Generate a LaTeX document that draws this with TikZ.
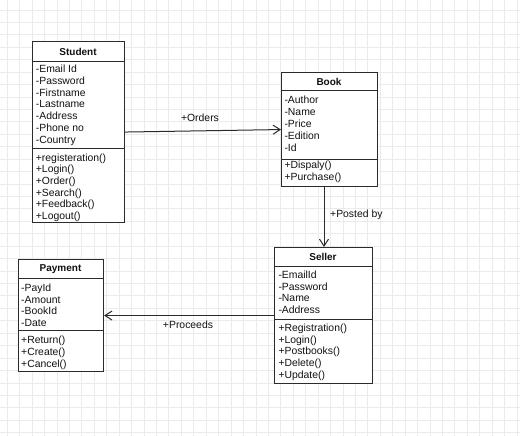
\documentclass[tikz,border=0pt]{standalone}
\usepackage{fontspec}
\setmainfont{Liberation Sans}
\usetikzlibrary{arrows.meta}
\definecolor{linec}{HTML}{2B2B2B}
\definecolor{textc}{HTML}{111111}
\definecolor{gridc}{HTML}{EBEBEB}
\begin{document}
\begin{tikzpicture}[x=1pt,y=-1pt,
  classbox/.style={draw=linec, line width=1.1pt, fill=white, inner sep=0pt, anchor=north west},
  member/.style={font=\fontsize{10.4}{11}\selectfont, inner sep=0pt, anchor=base west, text=textc},
  title/.style={font=\fontsize{10}{11}\selectfont\bfseries, inner sep=0pt, text=textc},
  rule/.style={draw=linec, line width=1pt},
  assoc/.style={draw=linec, line width=1pt, -{Straight Barb[length=7pt,width=9pt]}},
  lbl/.style={font=\fontsize{10.4}{11}\selectfont, inner sep=0pt, text=textc}]

% page and background grid
\fill[white] (0,0) rectangle (520,436);
\useasboundingbox (0,0) rectangle (520,436);
\foreach \k in {0,...,41} \draw[gridc, line width=0.8pt] ({7.3+12.43*\k},0) -- ({7.3+12.43*\k},436);
\foreach \k in {0,...,34} \draw[gridc, line width=0.8pt] (0,{10+12.43*\k}) -- (520,{10+12.43*\k});

% ---------- Student ----------
\node[classbox, minimum width=92pt, minimum height=181pt] (student) at (32,41) {};
\draw[rule] (student.west |- 0,61.7) -- (student.east |- 0,61.7);
\draw[rule] (student.west |- 0,148) -- (student.east |- 0,148);
\node[title] (student-t) at (78,51.5) {Student};
\foreach \txt [count=\i from 0] in {-Email Id,-Password,-Firstname,-Lastname,-Address,-Phone no,-Country}
  \node[member] (student-a\i) at (35.7,{72.6+11.8*\i}) {\txt};
\foreach \txt [count=\i from 0] in {+registeration(),+Login(),+Order(),+Search(),+Feedback(),+Logout()}
  \node[member] (student-m\i) at (35.7,{161+11.7*\i}) {\txt};

% ---------- Book ----------
\node[classbox, minimum width=96pt, minimum height=114pt] (book) at (281,72) {};
\draw[rule] (book.west |- 0,90.5) -- (book.east |- 0,90.5);
\draw[rule] (book.west |- 0,159) -- (book.east |- 0,159);
\node[title] (book-t) at (329,81.5) {Book};
\foreach \txt [count=\i from 0] in {-Author,-Name,-Price,-Edition,-Id}
  \node[member] (book-a\i) at (284.3,{103.6+11.85*\i}) {\txt};
\foreach \txt [count=\i from 0] in {+Dispaly(),+Purchase()}
  \node[member] (book-m\i) at (284.3,{168.6+11.5*\i}) {\txt};

% ---------- Seller ----------
\node[classbox, minimum width=98pt, minimum height=136pt] (seller) at (274,247) {};
\draw[rule] (seller.west |- 0,266) -- (seller.east |- 0,266);
\draw[rule] (seller.west |- 0,319) -- (seller.east |- 0,319);
\node[title] (seller-t) at (323,256.7) {Seller};
\foreach \txt [count=\i from 0] in {-EmailId,-Password,-Name,-Address}
  \node[member] (seller-a\i) at (278.3,{278.6+11.67*\i}) {\txt};
\foreach \txt [count=\i from 0] in {+Registration(),+Login(),+Postbooks(),+Delete(),+Update()}
  \node[member] (seller-m\i) at (278.3,{331.6+11.67*\i}) {\txt};

% ---------- Payment ----------
\node[classbox, minimum width=85pt, minimum height=112pt] (payment) at (18,259) {};
\draw[rule] (payment.west |- 0,278.5) -- (payment.east |- 0,278.5);
\draw[rule] (payment.west |- 0,330) -- (payment.east |- 0,330);
\node[title] (payment-t) at (60.5,269) {Payment};
\foreach \txt [count=\i from 0] in {-PayId,-Amount,-BookId,-Date}
  \node[member] (payment-a\i) at (21,{291.6+11.47*\i}) {\txt};
\foreach \txt [count=\i from 0] in {+Return(),+Create(),+Cancel()}
  \node[member] (payment-m\i) at (21,{343.6+11.7*\i}) {\txt};

% ---------- associations ----------
\draw[assoc] (student.east) -- (book.west);
\node[lbl] (orders) at (200,118) {+Orders};

\coordinate (postfrom) at (324,186);
\draw[assoc] (postfrom) -- (postfrom |- seller.north);
\node[lbl, anchor=west] (postedby) at (330,215) {+Posted by};

\draw[assoc] (seller.west) -- (payment.east);
\node[lbl] (proceeds) at (188,325) {+Proceeds};
\end{tikzpicture}
\end{document}
